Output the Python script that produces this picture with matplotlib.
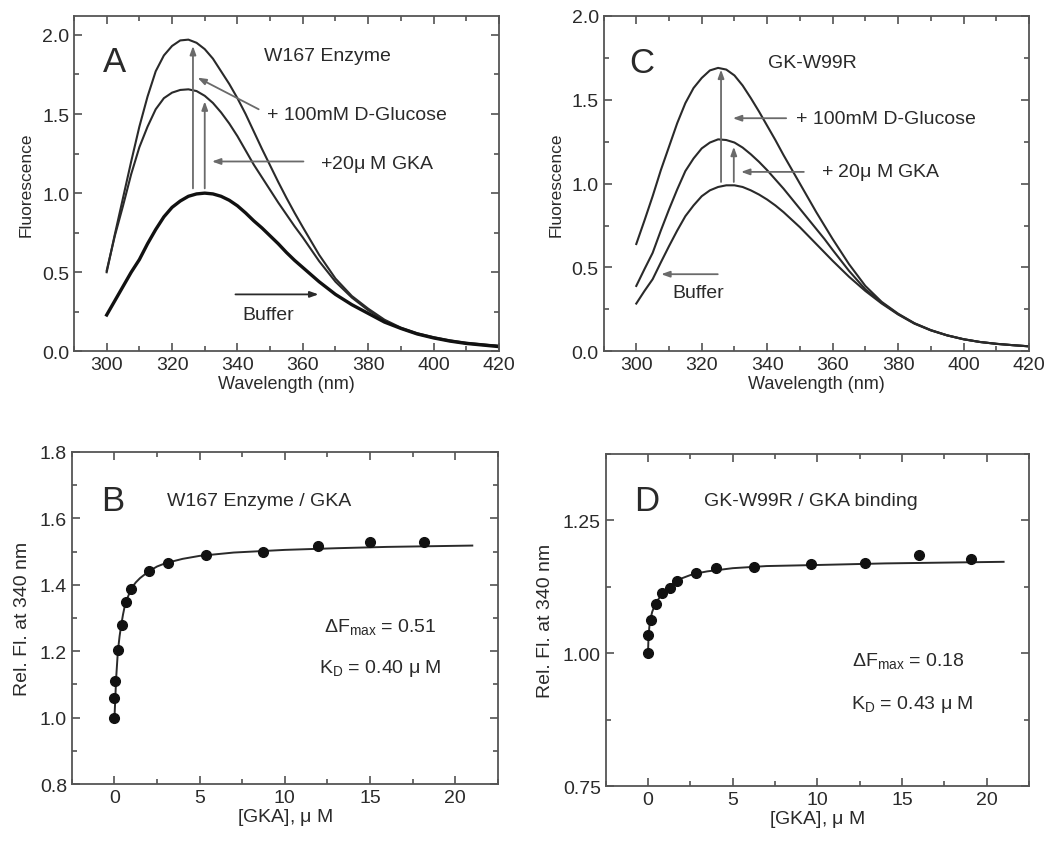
import matplotlib
matplotlib.use("Agg")
import matplotlib.pyplot as plt
from matplotlib.ticker import MultipleLocator

plt.rcParams['font.family'] = ['Liberation Sans', 'DejaVu Sans']
plt.rcParams['mathtext.fontset'] = 'custom'
plt.rcParams['mathtext.rm'] = 'Liberation Sans'
plt.rcParams['mathtext.it'] = 'Liberation Sans'

wavelength = [300, 302.5, 305, 307.5, 310, 312.5, 315, 317.5, 320, 322.5, 325, 327.5,
              330, 332.5, 335, 337.5, 340, 342.5, 345, 347.5, 350, 352.5, 355, 357.5,
              360, 365, 370, 375, 380, 385, 390, 395, 400, 405, 410, 415, 420]

a_buffer = [0.23, 0.32, 0.41, 0.50, 0.58, 0.68, 0.77, 0.85, 0.91, 0.95, 0.98, 0.995,
            1.00, 0.995, 0.98, 0.955, 0.92, 0.875, 0.825, 0.78, 0.73, 0.68, 0.625, 0.575,
            0.53, 0.44, 0.36, 0.295, 0.24, 0.185, 0.145, 0.11, 0.085, 0.065, 0.05, 0.04, 0.03]
a_gka = [0.51, 0.73, 0.92, 1.12, 1.29, 1.42, 1.53, 1.60, 1.635, 1.652, 1.656, 1.645,
         1.615, 1.57, 1.51, 1.44, 1.36, 1.27, 1.18, 1.10, 1.02, 0.94, 0.865, 0.79,
         0.72, 0.57, 0.44, 0.34, 0.26, 0.195, 0.145, 0.11, 0.085, 0.065, 0.05, 0.04, 0.035]
a_glucose = [0.50, 0.74, 0.97, 1.20, 1.42, 1.61, 1.77, 1.87, 1.93, 1.965, 1.97, 1.95,
             1.91, 1.85, 1.77, 1.69, 1.60, 1.50, 1.39, 1.28, 1.175, 1.07, 0.97, 0.875,
             0.785, 0.61, 0.46, 0.35, 0.27, 0.20, 0.15, 0.115, 0.09, 0.07, 0.055, 0.045, 0.035]

c_buffer = [0.285, 0.36, 0.43, 0.53, 0.627, 0.72, 0.806, 0.87, 0.925, 0.96, 0.98, 0.99,
            0.99, 0.98, 0.96, 0.935, 0.905, 0.87, 0.83, 0.785, 0.74, 0.69, 0.64, 0.59,
            0.54, 0.445, 0.36, 0.285, 0.22, 0.165, 0.125, 0.095, 0.072, 0.056, 0.045, 0.037, 0.03]
c_gka = [0.39, 0.49, 0.587, 0.72, 0.846, 0.965, 1.075, 1.15, 1.21, 1.245, 1.264, 1.26,
         1.245, 1.215, 1.175, 1.13, 1.08, 1.025, 0.97, 0.91, 0.85, 0.79, 0.73, 0.67,
         0.605, 0.48, 0.37, 0.29, 0.222, 0.167, 0.126, 0.095, 0.072, 0.056, 0.045, 0.037, 0.03]
c_glucose = [0.64, 0.78, 0.925, 1.08, 1.22, 1.36, 1.48, 1.57, 1.63, 1.675, 1.69, 1.68,
             1.645, 1.585, 1.51, 1.43, 1.345, 1.26, 1.17, 1.085, 1.0, 0.915, 0.83, 0.75,
             0.67, 0.52, 0.39, 0.295, 0.225, 0.168, 0.127, 0.096, 0.073, 0.056, 0.045, 0.037, 0.03]

# titration points
b_conc = [0, 0, 0.06, 0.2, 0.43, 0.68, 0.98, 2.0, 3.12, 5.37, 8.7, 11.94, 15.02, 18.15]
b_fl = [1.0, 1.06, 1.11, 1.205, 1.28, 1.348, 1.388, 1.44, 1.466, 1.489, 1.50, 1.516, 1.529, 1.529]
b_fit_x = [0, 0.05, 0.1, 0.2, 0.3, 0.4, 0.5, 0.6, 0.8, 1.0, 1.25, 1.5, 2.0, 2.5, 3.0, 4.0, 5.0,
           6.0, 7.0, 8.5, 10.0, 13.0, 16.0, 21.0]
b_fit_y = [1.0, 1.06, 1.12, 1.2, 1.245, 1.28, 1.31, 1.335, 1.365, 1.39, 1.407, 1.42, 1.44, 1.455,
           1.465, 1.478, 1.487, 1.492, 1.497, 1.501, 1.505, 1.51, 1.514, 1.518]

d_conc = [0, 0.02, 0.16, 0.45, 0.84, 1.28, 1.71, 2.82, 3.99, 6.28, 9.63, 12.84, 16.01, 19.09]
d_fl = [1.0, 1.035, 1.063, 1.092, 1.114, 1.123, 1.136, 1.151, 1.160, 1.163, 1.167, 1.170, 1.184, 1.178]
d_fit_x = [0, 0.03, 0.08, 0.15, 0.25, 0.4, 0.6, 0.8, 1.0, 1.2, 1.5, 1.7, 2.0, 2.5, 3.0, 3.5,
           4.0, 5.0, 6.0, 7.0, 10.0, 14.0, 21.0]
d_fit_y = [1.0, 1.03, 1.05, 1.065, 1.078, 1.09, 1.101, 1.11, 1.117, 1.124, 1.131, 1.136, 1.141,
           1.147, 1.151, 1.154, 1.156, 1.16, 1.162, 1.164, 1.166, 1.169, 1.172]

ink = '#2a2a2a'
grey = '#6a6a6a'

fig = plt.figure(figsize=(10.57, 8.45), dpi=100)
axA = fig.add_axes([0.070, 0.583, 0.402, 0.397])
axC = fig.add_axes([0.571, 0.583, 0.4025, 0.397])
axB = fig.add_axes([0.068, 0.071, 0.403, 0.393])
axD = fig.add_axes([0.573, 0.0686, 0.4005, 0.393])


def style(ax, xmaj, xmin, ymaj, ymin):
    ax.xaxis.set_major_locator(MultipleLocator(xmaj))
    ax.xaxis.set_minor_locator(MultipleLocator(xmin))
    ax.yaxis.set_major_locator(MultipleLocator(ymaj))
    ax.yaxis.set_minor_locator(MultipleLocator(ymin))
    ax.tick_params(which='both', direction='in', top=True, right=True,
                   colors='#444444', labelcolor=ink, labelsize=14, width=1.1)
    ax.tick_params(which='major', length=6)
    ax.tick_params(which='minor', length=3.5)
    for s in ax.spines.values():
        s.set_color('#555555')
        s.set_linewidth(1.3)


def arrow(ax, start, end, col=grey):
    ax.annotate('', xy=end, xytext=start,
                arrowprops=dict(arrowstyle='-|>,head_length=0.5,head_width=0.18',
                                color=col, lw=1.3, shrinkA=0, shrinkB=0))


# panel A
axA.plot(wavelength, a_glucose, color=ink, lw=1.5)
axA.plot(wavelength, a_gka, color=ink, lw=1.5)
axA.plot(wavelength, a_buffer, color='#111111', lw=2.4)
axA.set_xlim(290, 420)
axA.set_ylim(0, 2.12)
style(axA, 20, 10, 0.5, 0.25)
axA.set_xlabel('Wavelength (nm)', fontsize=13, color=ink, labelpad=1)
axA.set_ylabel('Fluorescence', fontsize=12.5, color=ink, labelpad=6)
axA.text(299, 1.83, 'A', fontsize=25, color=ink, va='center')
axA.text(348, 1.87, 'W167 Enzyme', fontsize=14, color=ink, va='center')
arrow(axA, (326.4, 1.03), (326.4, 1.93))
arrow(axA, (330.0, 1.03), (330.0, 1.58))
arrow(axA, (346.5, 1.53), (327.8, 1.73))
axA.text(349, 1.50, '+ 100mM D-Glucose', fontsize=14, color=ink, va='center')
arrow(axA, (360.2, 1.20), (332.2, 1.20))
axA.text(365.3, 1.19, '+20$\\mu$ M GKA', fontsize=14, color=ink, va='center')
arrow(axA, (339.4, 0.36), (364.8, 0.36), col=ink)
axA.text(349.5, 0.23, 'Buffer', fontsize=14, color=ink, va='center', ha='center')

# panel C
axC.plot(wavelength, c_glucose, color=ink, lw=1.5)
axC.plot(wavelength, c_gka, color=ink, lw=1.5)
axC.plot(wavelength, c_buffer, color=ink, lw=1.5)
axC.set_xlim(290, 420)
axC.set_ylim(0, 2.0)
style(axC, 20, 10, 0.5, 0.25)
axC.set_xlabel('Wavelength (nm)', fontsize=13, color=ink, labelpad=1)
axC.set_ylabel('Fluorescence', fontsize=12.5, color=ink, labelpad=6)
axC.text(298, 1.72, 'C', fontsize=25, color=ink, va='center')
axC.text(340.2, 1.72, 'GK-W99R', fontsize=14, color=ink, va='center')
arrow(axC, (325.9, 1.01), (325.9, 1.68))
arrow(axC, (329.8, 1.01), (329.8, 1.22))
arrow(axC, (345.8, 1.39), (329.5, 1.39))
axC.text(348.8, 1.39, '+ 100mM D-Glucose', fontsize=14, color=ink, va='center')
arrow(axC, (351.2, 1.07), (332.0, 1.07))
axC.text(356.3, 1.07, '+ 20$\\mu$ M GKA', fontsize=14, color=ink, va='center')
arrow(axC, (324.9, 0.46), (307.6, 0.46))
axC.text(318.8, 0.35, 'Buffer', fontsize=14, color=ink, va='center', ha='center')

# panel B
axB.plot(b_fit_x, b_fit_y, color=ink, lw=1.4)
axB.plot(b_conc, b_fl, 'o', color='#111111', ms=7)
axB.set_xlim(-2.5, 22.5)
axB.set_ylim(0.8, 1.8)
style(axB, 5, 2.5, 0.2, 0.1)
axB.set_xlabel('[GKA], $\\mu$ M', fontsize=14, color=ink, labelpad=0)
axB.set_ylabel('Rel. Fl. at 340 nm', fontsize=14, color=ink, labelpad=6)
axB.text(-0.8, 1.655, 'B', fontsize=25, color=ink, va='center')
axB.text(3.1, 1.655, 'W167 Enzyme / GKA', fontsize=14, color=ink, va='center')
axB.text(15.6, 1.277, '$\\Delta$F$_{max}$ = 0.51', fontsize=14, color=ink, va='center', ha='center')
axB.text(15.6, 1.152, 'K$_D$ = 0.40 $\\mu$ M', fontsize=14, color=ink, va='center', ha='center')

# panel D
axD.plot(d_fit_x, d_fit_y, color=ink, lw=1.4)
axD.plot(d_conc, d_fl, 'o', color='#111111', ms=7)
axD.set_xlim(-2.5, 22.5)
axD.set_ylim(0.75, 1.375)
style(axD, 5, 2.5, 0.25, 0.125)
axD.set_xlabel('[GKA], $\\mu$ M', fontsize=14, color=ink, labelpad=0)
axD.set_ylabel('Rel. Fl. at 340 nm', fontsize=14, color=ink, labelpad=6)
axD.text(-0.8, 1.288, 'D', fontsize=25, color=ink, va='center')
axD.text(3.3, 1.288, 'GK-W99R / GKA binding', fontsize=14, color=ink, va='center')
axD.text(15.4, 0.988, '$\\Delta$F$_{max}$ = 0.18', fontsize=14, color=ink, va='center', ha='center')
axD.text(15.6, 0.905, 'K$_D$ = 0.43 $\\mu$ M', fontsize=14, color=ink, va='center', ha='center')

fig.savefig('out.png', dpi=100)
